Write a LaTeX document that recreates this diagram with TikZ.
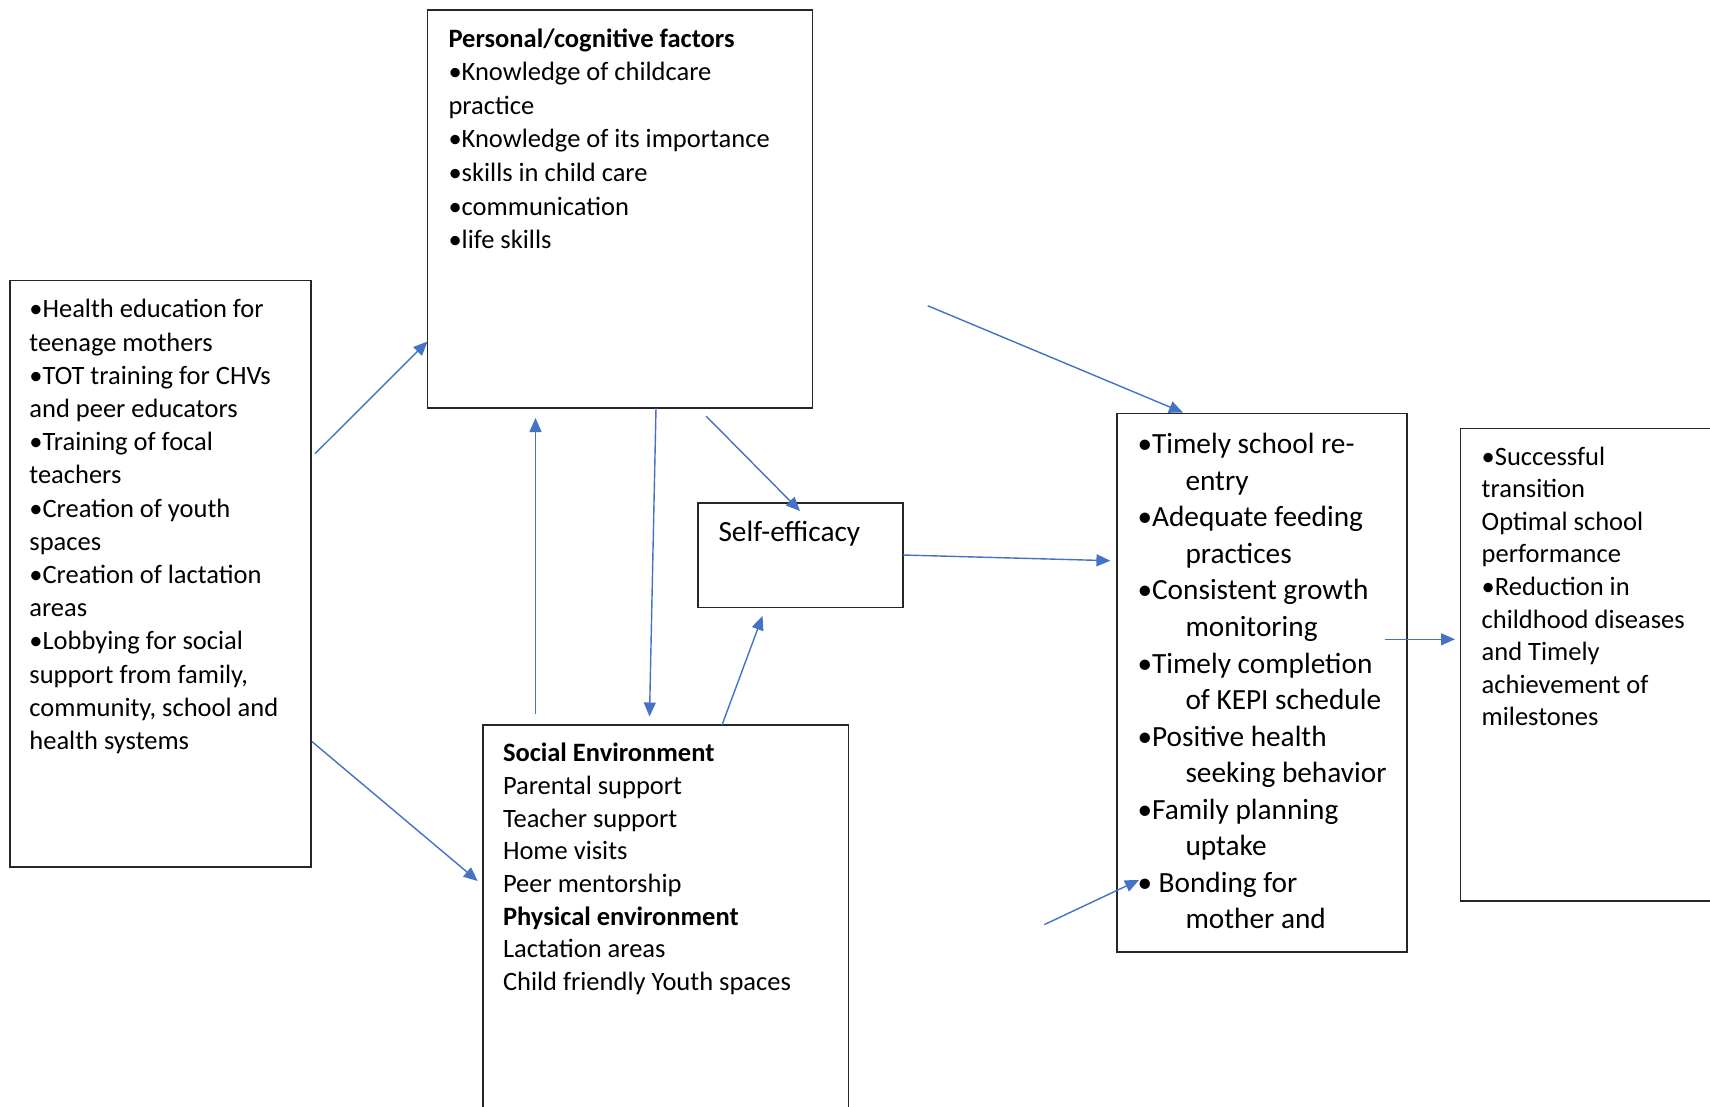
\documentclass[tikz,border=0pt]{standalone}
\usepackage{fontspec}
\setmainfont{Carlito}
\usetikzlibrary{arrows.meta,calc}
\definecolor{arrowblue}{HTML}{4472C4}
\definecolor{boxline}{HTML}{262626}
\begin{document}
\begin{tikzpicture}[x=1pt,y=-1pt,
  box/.style={draw=boxline,line width=1.4pt,inner sep=0pt,outer sep=0pt},
  txt/.style={anchor=north west,inner sep=0pt,outer sep=0pt,align=left,font=\fontsize{26.5}{33.2}\selectfont},
  conn/.style={draw=arrowblue,line width=1.4pt,-{Triangle[length=14pt,width=12pt]}}]
\useasboundingbox[fill=white] (0,0) rectangle (1710,1106);
% boxes
\node[box,minimum width=301pt,minimum height=586.7pt] (left) at (160.3,573.65) {};
\node[box,minimum width=385pt,minimum height=398.2pt] (pers) at (620,208.9) {};
\node[box,minimum width=205pt,minimum height=104.7pt] (self) at (800.5,555.15) {};
\node[box,minimum width=365.5pt,minimum height=395pt] (soc) at (665.75,922.5) {};
\node[box,minimum width=290.1pt,minimum height=538.7pt] (outc) at (1261.85,682.65) {};
\node[box,minimum width=269.6pt,minimum height=472.4pt] (res) at (1595.2,664.8) {};
% texts
\node[txt] (leftt) at (29.4,294.6) {\strut •Health education for\\teenage mothers\\•TOT training for CHVs\\and peer educators\\•Training of focal\\teachers\\•Creation of youth\\spaces\\•Creation of lactation\\areas\\•Lobbying for social\\support from family,\\community, school and\\health systems};
\node[txt,font=\fontsize{26.5}{33.6}\selectfont] (perst) at (448.5,23.6) {\strut\textbf{Personal/cognitive factors}\\•Knowledge of childcare\\practice\\•Knowledge of its importance\\•skills in child care\\•communication\\•life skills};
\node[txt,font=\fontsize{29.3}{36.4}\selectfont] (selft) at (718.5,516.4) {\strut Self-efficacy};
\node[txt,font=\fontsize{26.5}{32.7}\selectfont] (soct) at (503,738.8) {\strut\textbf{Social Environment}\\Parental support\\Teacher support\\Home visits\\Peer mentorship\\\textbf{Physical environment}\\Lactation areas\\Child friendly Youth spaces};
\node[txt,font=\fontsize{29.3}{36.55}\selectfont] (outct) at (1137.5,428.2) {\strut •Timely school re-\\\hspace*{48pt}entry\\•Adequate feeding\\\hspace*{48pt}practices\\•Consistent growth\\\hspace*{48pt}monitoring\\•Timely completion\\\hspace*{48pt}of KEPI schedule\\•Positive health\\\hspace*{48pt}seeking behavior\\•Family planning\\\hspace*{48pt}uptake\\• Bonding for\\\hspace*{48pt}mother and};
\node[txt,font=\fontsize{26.5}{32.6}\selectfont] (rest) at (1481.7,442.2) {\strut •Successful\\transition\\Optimal school\\performance\\•Reduction in\\childhood diseases\\and Timely\\achievement of\\milestones};
% connector end points
\coordinate (a1s) at (315,453.7);   \coordinate (a1e) at (427.5,341.5);
\coordinate (a2s) at (312,741.6);   \coordinate (a2e) at (477.7,881);
\coordinate (a3s) at (535.5,714);   \coordinate (a3e) at (535.5,418);
\coordinate (a4s) at (656,408);     \coordinate (a4e) at (649.5,716.5);
\coordinate (a5s) at (706,416);     \coordinate (a5e) at (800,511);
\coordinate (a6s) at (722,725);     \coordinate (a6e) at (762.5,616);
\coordinate (a7s) at (903,555);     \coordinate (a7e) at (1110.4,560.7);
\coordinate (a8s) at (927.7,305.7); \coordinate (a8e) at (1183,412.5);
\coordinate (a9s) at (1384.7,639.3);\coordinate (a9e) at (1455,639.3);
\coordinate (a10s) at (1044.3,924.6);\coordinate (a10e) at (1139,880);
\draw[conn] (a1s) -- (a1e);
\draw[conn] (a2s) -- (a2e);
\draw[conn] (a3s) -- (a3e);
\draw[conn] (a4s) -- (a4e);
\draw[conn] (a5s) -- (a5e);
\draw[conn] (a6s) -- (a6e);
\draw[conn] (a7s) -- (a7e);
\draw[conn] (a8s) -- (a8e);
\draw[conn] (a9s) -- (a9e);
\draw[conn] (a10s) -- (a10e);
\end{tikzpicture}
\end{document}
